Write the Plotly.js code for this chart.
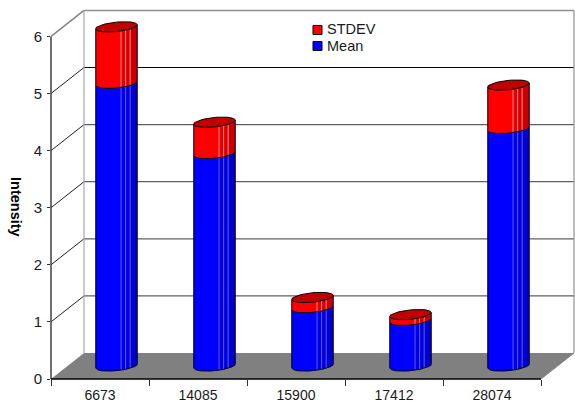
<!DOCTYPE html>
<html><head><meta charset="utf-8">
<script src="https://cdn.plot.ly/plotly-3.0.1.min.js"></script>
<style>html,body{margin:0;padding:0;background:#fff}#c{width:575px;height:402px}</style>
</head><body><div id="c"></div>
<script>
const categories = ["6673","14085","15900","17412","28074"];
const meanValues = [4.95,3.72,1.02,0.80,4.16];
const stdevValues = [0.99,0.55,0.18,0.10,0.76];
const yTicks = [0,1,2,3,4,5,6];

// projection of the pseudo-3D box, in axis units
const UX=98, UY=57.1, W=575, H=402, ML=51, MT=8, MB=23;
const xMin=-0.5, xMax=xMin+(W-ML)/UX, yMax=(H-MT-MB)/UY;
const DX=33/UX, DY=26/UY, xEnd=xMin+categories.length;
const RX=20.7/UX, RY=4.7/UY, TILT=2/UY, BARW=2*RX;
const C={blue:{f:['#0000ff','#0000e6','#0000d8','#0000c8'],s:'#5c5cff'},
         red:{f:['#ff0000','#e60000','#d80000','#c80000'],s:'#ff8a8a'}};
const F=[0,0.61,0.72,0.83,1];
const font='"Liberation Sans",Arial,sans-serif';

const cx=i=>i+DX/2;
const arcPt=(i,yc,c)=>[cx(i)+RX*c, yc-RY*Math.sqrt(Math.max(0,1-c*c))+TILT*c];
function frontArc(i,yc,f0,f1,n){const xs=[],ys=[];for(let k=0;k<=n;k++){const f=f0+(f1-f0)*k/n;const p=arcPt(i,yc,2*f-1);xs.push(p[0]);ys.push(p[1]);}return [xs,ys];}
function poly(xs,ys,fill,line,lw){return {type:'scatter',mode:line?'lines':'none',xaxis:'x2',yaxis:'y',x:xs,y:ys,fill:fill?'toself':'none',fillcolor:fill||undefined,line:{color:line||'rgba(0,0,0,0)',width:lw||1},hoverinfo:'skip',showlegend:false};}
function ellipse(i,yc){const xs=[],ys=[];for(let k=0;k<=48;k++){const t=2*Math.PI*k/48;xs.push(cx(i)+RX*Math.cos(t));ys.push(yc+RY*Math.sin(t)+TILT*Math.cos(t));}return [xs,ys];}

const lift=DY/2;
const traces=[];
traces.push({type:'bar',name:'Mean',x:categories,y:meanValues,base:meanValues.map(()=>lift),width:BARW,offset:DX/2-RX,marker:{color:'#0000ff',line:{width:0}},hoverinfo:'x+y',showlegend:false});
traces.push({type:'bar',name:'STDEV',x:categories,y:stdevValues,base:meanValues.map(v=>v+lift),width:BARW,offset:DX/2-RX,marker:{color:'#ff0000',line:{width:0}},hoverinfo:'x+y',showlegend:false});

function body(i,y0,y1,col){
  for(let s=0;s<4;s++){
    const a=frontArc(i,y0,F[s],F[s+1],10), b=frontArc(i,y1,F[s],F[s+1],10);
    traces.push(poly(a[0].concat(b[0].slice().reverse()),a[1].concat(b[1].slice().reverse()),col.f[s]));
  }
  for(let s=1;s<4;s++){
    const p=arcPt(i,y0,2*F[s]-1), q=arcPt(i,y1,2*F[s]-1);
    traces.push(poly([p[0],q[0]],[p[1],q[1]],null,col.s,1));
  }
  const a=frontArc(i,y0,0,1,30), t0=arcPt(i,y1,-1), t1=arcPt(i,y1,1);
  traces.push(poly([t0[0]].concat(a[0],[t1[0]]),[t0[1]].concat(a[1],[t1[1]]),null,'#000018',1));
}
categories.forEach((c,i)=>{
  const b=lift, m=meanValues[i]+lift, t=m+stdevValues[i];
  body(i,b,m,C.blue);
  body(i,m,t,C.red);
  const e=ellipse(i,t);
  traces.push(poly(e[0],e[1],'#c00000','#000000',1));
});

const bx=xMin+DX;
const shapes=[];
const seg=(x0,y0,x1,y1,color,width)=>({type:'line',layer:'below',xref:'x2',yref:'y',x0,y0,x1,y1,line:{color,width:width||1}});
shapes.push({type:'path',layer:'below',xref:'x2',yref:'y',path:`M${xMin},0 L${xEnd},0 L${xEnd+DX},${DY} L${bx},${DY} Z`,fillcolor:'#808080',line:{width:0}});
yTicks.forEach(v=>{
  if(v>0){
    shapes.push(seg(xMin,v,bx,v+DY,v===6?'#808080':'#202020',v===6?1.5:1));
    shapes.push(seg(bx,v+DY,xEnd+DX,v+DY,v===5?'#000000':v===6?'#909090':'#606060',v===6?1.5:1.2));
  }
});
shapes.push(seg(bx,DY,bx,6+DY,'#a8a8a8',1.2));
shapes.push(seg(xEnd+DX,DY,xEnd+DX,6+DY,'#909090',1.2));
shapes.push(seg(xEnd,0,xEnd+DX,DY,'#808080',1));
shapes.push({type:'line',layer:'above',xref:'paper',yref:'y',x0:0,x1:0,y0:0,y1:6,line:{color:'#404040',width:1.5}});
shapes.push({type:'line',layer:'above',xref:'x2',yref:'paper',x0:xMin,x1:xEnd,y0:0,y1:0,line:{color:'#000000',width:1.5}});
// legend swatches
const swX=(317.5-100)/UX, swH=4.5/UY, swW=4.5/UX;
[['#ff0000',(379-30)/UY],['#0000ff',(379-46)/UY]].forEach(s=>shapes.push({type:'rect',layer:'above',xref:'x2',yref:'y',x0:swX-swW,x1:swX+swW,y0:s[1]-swH,y1:s[1]+swH,fillcolor:s[0],line:{color:'#000',width:1}}));

const annotations=[
 {text:'STDEV',xref:'x2',yref:'y',x:(325-100)/UX,y:(379-29)/UY,xanchor:'left',yanchor:'middle',showarrow:false,font:{family:font,size:14.5,color:'#1a1a1a'}},
 {text:'Mean',xref:'x2',yref:'y',x:(325-100)/UX,y:(379-45.5)/UY,xanchor:'left',yanchor:'middle',showarrow:false,font:{family:font,size:14.5,color:'#1a1a1a'}},
 {text:'<b>Intensity</b>',xref:'paper',yref:'paper',x:(16-ML)/(W-ML),y:(H-MB-207)/(H-MT-MB),xanchor:'center',yanchor:'middle',textangle:90,showarrow:false,font:{family:font,size:14.5,color:'#000'}}
];

const layout={width:W,height:H,margin:{l:ML,r:0,t:MT,b:MB,pad:0},paper_bgcolor:'#fff',plot_bgcolor:'#fff',barmode:'overlay',showlegend:false,
 font:{family:font,size:14,color:'#1a1a1a'},
 xaxis:{type:'category',categoryorder:'array',categoryarray:categories,range:[xMin,xMax],tickson:'boundaries',ticks:'outside',ticklen:6,tickcolor:'#303030',tickwidth:1,ticklabelstandoff:6,showgrid:false,zeroline:false,showline:false,tickfont:{family:font,size:14,color:'#1a1a1a'},fixedrange:true},
 xaxis2:{overlaying:'x',anchor:'y',range:[xMin,xMax],visible:false,fixedrange:true},
 yaxis:{range:[0,yMax],tickvals:yTicks,ticktext:yTicks.map(String),ticks:'outside',ticklen:3,tickcolor:'#303030',tickwidth:1,ticklabelstandoff:2,showgrid:false,zeroline:false,showline:false,tickfont:{family:font,size:15,color:'#1a1a1a'},fixedrange:true},
 shapes,annotations};
Plotly.newPlot('c',traces,layout,{displayModeBar:false,staticPlot:true});
</script></body></html>
